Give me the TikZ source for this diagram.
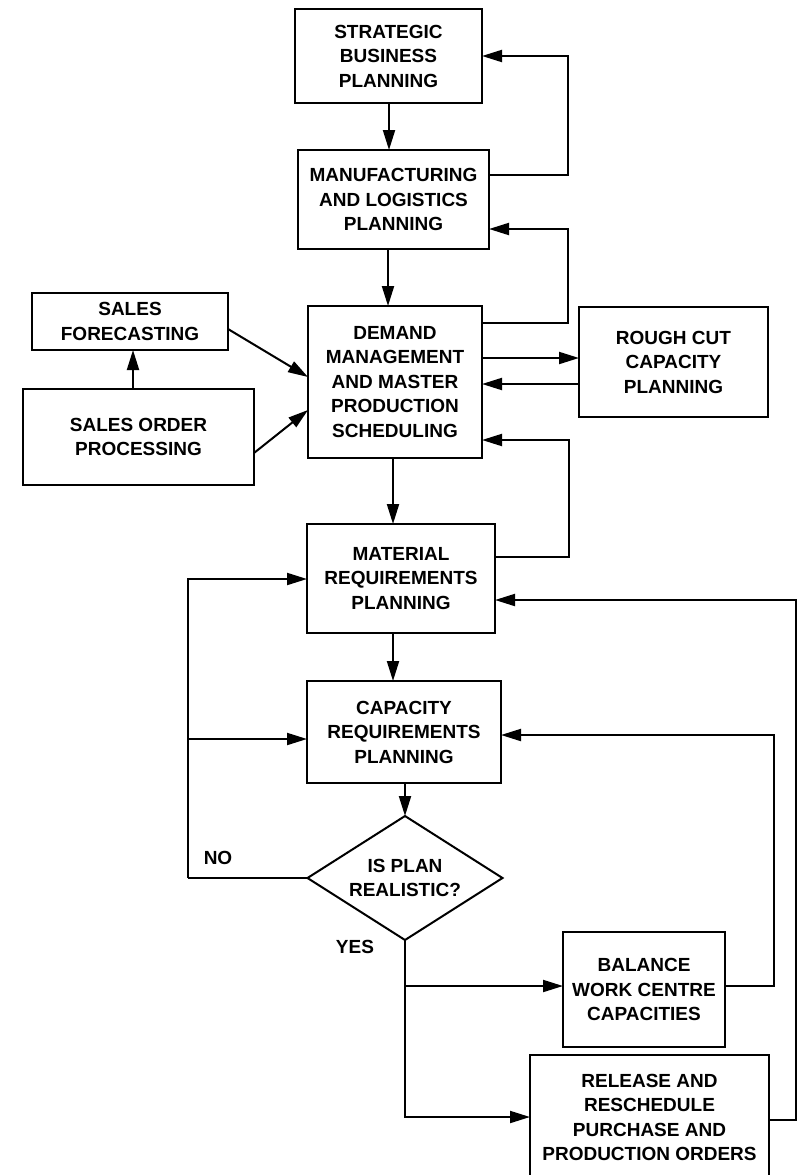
\documentclass[tikz,border=0pt]{standalone}
\usepackage{fontspec}
\setmainfont{Liberation Sans}
\usetikzlibrary{arrows.meta,shapes.geometric}
\begin{document}
\begin{tikzpicture}[x=1pt,y=-1pt,
  lbl/.style={font=\bfseries\fontsize{19}{24.5}\selectfont, align=center, inner sep=0, outer sep=0},
  box/.style={lbl, draw, line width=2pt},
  ln/.style={line width=2pt},
  arr/.style={line width=2pt, -{Triangle[length=20pt,width=12pt]}}]
\useasboundingbox (0,0) rectangle (797,1175);
\fill[white] (0,0) rectangle (797,1175);
\clip (0,0) rectangle (797,1175);

% boxes
\node[box, minimum width=187pt, minimum height=94pt] (sbp) at (388.5,56) {STRATEGIC\\BUSINESS\\PLANNING};
\node[box, minimum width=191pt, minimum height=99pt] (mlp) at (393.5,199.5) {MANUFACTURING\\AND LOGISTICS\\PLANNING};
\node[box, minimum width=196pt, minimum height=57pt] (sf) at (130,321.5) {SALES\\FORECASTING};
\node[box, minimum width=231pt, minimum height=96pt] (sop) at (138.5,437) {SALES ORDER\\PROCESSING};
\node[box, minimum width=174pt, minimum height=152pt] (dm) at (395,382) {DEMAND\\MANAGEMENT\\AND MASTER\\PRODUCTION\\SCHEDULING};
\node[box, minimum width=189pt, minimum height=110pt] (rc) at (673.5,362) {ROUGH CUT\\CAPACITY\\PLANNING};
\node[box, minimum width=188pt, minimum height=109pt] (mrp) at (401,578.5) {MATERIAL\\REQUIREMENTS\\PLANNING};
\node[box, minimum width=194pt, minimum height=102pt] (crp) at (404,732) {CAPACITY\\REQUIREMENTS\\PLANNING};
\node[box, diamond, aspect=1.57, minimum width=195pt, minimum height=124pt] (dia) at (405,878) {IS PLAN\\REALISTIC?};
\node[box, minimum width=162pt, minimum height=115pt] (bwc) at (644,989.5) {BALANCE\\WORK CENTRE\\CAPACITIES};
\node[box, minimum width=239pt, minimum height=125pt] (rrp) at (649.5,1117.5) {RELEASE AND\\RESCHEDULE\\PURCHASE AND\\PRODUCTION ORDERS};

\node[lbl] (no) at (218,858) {NO};
\node[lbl] (yes) at (355,947) {YES};

% helper coordinates
\coordinate (v0) at (133,0);
\coordinate (v1) at (389,0);
\coordinate (v2) at (388,0);
\coordinate (v3) at (393,0);
\coordinate (k1) at (568,175);
\coordinate (k2) at (568,323);
\coordinate (k2t) at (0,229);
\coordinate (k3) at (569,557);
\coordinate (k3t) at (0,440);
\coordinate (h1) at (0,358);
\coordinate (h2) at (0,384);
\coordinate (s1) at (0,329);
\coordinate (s1t) at (0,377);
\coordinate (s2) at (0,453);
\coordinate (s2t) at (0,410);
\coordinate (nl) at (188,878);
\coordinate (m1) at (0,579);
\coordinate (c1) at (0,739);
\coordinate (yb) at (405,1117);
\coordinate (ym) at (405,986);
\coordinate (b1) at (774,986);
\coordinate (c2) at (0,735);
\coordinate (r1) at (796,1120);
\coordinate (m2) at (0,600);

% main flow
\draw[arr] (sbp.south -| v1) -- (mlp.north -| v1);
\draw[arr] (mlp.south -| v2) -- (dm.north -| v2);
\draw[arr] (dm.south -| v3) -- (mrp.north -| v3);
\draw[arr] (mrp.south -| v3) -- (crp.north -| v3);
\draw[arr] (dia.north |- crp.south) -- (dia.north);

% feedback loops on the right
\draw[arr] (mlp.east |- k1) -- (k1) |- (sbp.east);
\draw[arr] (dm.east |- k2) -- (k2) |- (mlp.east |- k2t);
\draw[arr] (mrp.east |- k3) -- (k3) |- (dm.east |- k3t);
\draw[arr] (dm.east |- h1) -- (rc.west |- h1);
\draw[arr] (rc.west |- h2) -- (dm.east |- h2);

% sales
\draw[arr] (sop.north -| v0) -- (sf.south -| v0);
\draw[arr] (sf.east |- s1) -- (dm.west |- s1t);
\draw[arr] (sop.east |- s2) -- (dm.west |- s2t);

% NO loop
\draw[ln] (dia.west) -- (nl);
\draw[arr] (nl) |- (mrp.west |- m1);
\draw[arr] (nl |- c1) -- (crp.west |- c1);

% YES branch
\draw[arr] (dia.south) |- (rrp.west |- yb);
\draw[arr] (ym) -- (bwc.west |- ym);
\draw[arr] (bwc.east |- b1) -- (b1) |- (crp.east |- c2);
\draw[arr] (rrp.east |- r1) -- (r1) |- (mrp.east |- m2);
\end{tikzpicture}
\end{document}
